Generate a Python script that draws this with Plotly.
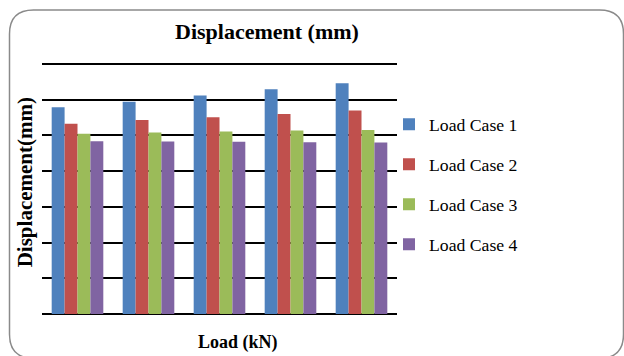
import plotly.graph_objects as go

categories = ["1", "2", "3", "4", "5"]
series_names = ["Load Case 1", "Load Case 2", "Load Case 3", "Load Case 4"]
case1 = [5.79, 5.94, 6.12, 6.29, 6.46]
case2 = [5.33, 5.43, 5.51, 5.60, 5.70]
case3 = [5.05, 5.08, 5.11, 5.14, 5.15]
case4 = [4.84, 4.83, 4.82, 4.81, 4.80]
series_values = [case1, case2, case3, case4]
colors = ["#4F81BD", "#C0504D", "#9BBB59", "#8064A2"]
y_max = 7

W, H = 624, 356
L, R, T, B = 42, 227, 63.7, 42.3
PW, PH = W - L - R, H - T - B


def px(x):
    return (x - L) / PW


def py(y):
    return (H - B - y) / PH


fig = go.Figure()
for i, (name, vals) in enumerate(zip(series_names, series_values)):
    fig.add_trace(go.Bar(
        x=categories, y=vals, name=name, marker_color=colors[i],
        marker_line_width=0, legendgroup=name,
    ))

serif = "Liberation Serif, Times New Roman, serif"

# top gridline (at the edge of the range)
fig.add_shape(type="line", xref="paper", yref="paper", x0=0, x1=1,
              y0=1, y1=1, line=dict(color="black", width=2),
              layer="above")

# rounded border
x0, x1, y0, y1, r = 9.5, 623.5, 9.7, 358, 24
path = (f"M {px(x0 + r)},{py(y0)} L {px(x1 - r)},{py(y0)} "
        f"Q {px(x1)},{py(y0)} {px(x1)},{py(y0 + r)} "
        f"L {px(x1)},{py(y1 - r)} Q {px(x1)},{py(y1)} {px(x1 - r)},{py(y1)} "
        f"L {px(x0 + r)},{py(y1)} Q {px(x0)},{py(y1)} {px(x0)},{py(y1 - r)} "
        f"L {px(x0)},{py(y0 + r)} Q {px(x0)},{py(y0)} {px(x0 + r)},{py(y0)} Z")
fig.add_shape(type="path", path=path, xref="paper", yref="paper",
              line=dict(color="#8a8a8a", width=1.5), layer="above")

fig.add_annotation(text="<b>Displacement (mm)</b>", x=px(267), y=py(31),
                   xref="paper", yref="paper", showarrow=False,
                   font=dict(family=serif, size=22, color="black"),
                   xanchor="center", yanchor="middle")
fig.add_annotation(text="<b>Load (kN)</b>", x=px(238), y=py(342),
                   xref="paper", yref="paper", showarrow=False,
                   font=dict(family=serif, size=18, color="black"),
                   xanchor="center", yanchor="middle")
fig.add_annotation(text="<b>Displacement(mm)</b>", x=px(25), y=py(182),
                   xref="paper", yref="paper", showarrow=False, textangle=-90,
                   font=dict(family=serif, size=21, color="black"),
                   xanchor="center", yanchor="middle")

fig.update_layout(
    width=W, height=H,
    margin=dict(l=L, r=R, t=T, b=B, pad=0),
    paper_bgcolor="white", plot_bgcolor="white",
    barmode="group", bargap=0.273, bargroupgap=0,
    showlegend=True,
    legend=dict(x=px(389), y=py(106), xanchor="left", yanchor="top",
                font=dict(family=serif, size=17.7, color="black"),
                tracegroupgap=14, traceorder="grouped", borderwidth=0,
                bgcolor="rgba(0,0,0,0)"),
    xaxis=dict(showticklabels=False, showgrid=False, zeroline=False,
               showline=False, ticks=""),
    yaxis=dict(range=[0, y_max], dtick=1, showticklabels=False, showgrid=True,
               gridcolor="black", gridwidth=2, zeroline=True,
               zerolinecolor="black", zerolinewidth=2, showline=False,
               ticks=""),
)

fig.write_html("out.html")
